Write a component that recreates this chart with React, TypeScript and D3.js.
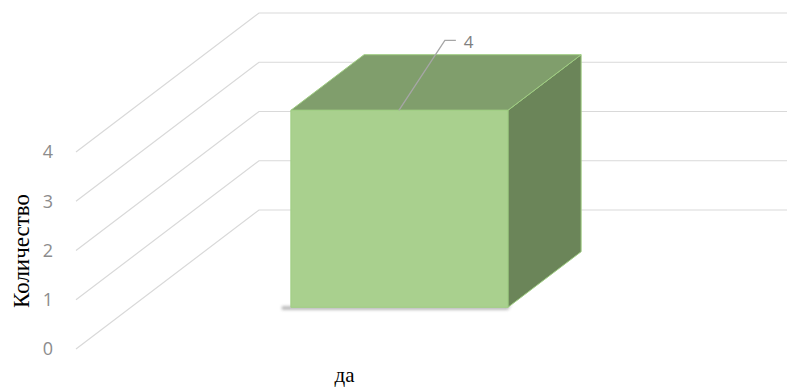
import React from "react";
import * as d3 from "d3";

const categories = ["да"];
const values = [4];
const yTicks = [0, 1, 2, 3, 4];
const yTitle = "Количество";

const W = 787;
const H = 387;

export default function App() {
  // front plane geometry
  const frontLeft = 76;
  const depthDx = 183;
  const depthDy = -139;
  const backRight = 787;

  const y = d3.scaleLinear().domain([0, 4]).range([349, 152]);
  const x = d3
    .scaleBand<string>()
    .domain(categories)
    .range([frontLeft, 613])
    .paddingInner(0)
    .paddingOuter(0.737);

  const barFront = 0.3;
  const barBack = 0.7;
  const off = (t: number) => [depthDx * t, depthDy * t];
  const [fdx, fdy] = off(barFront);
  const [bdx, bdy] = off(barBack);

  const line = d3.line();

  return (
    <svg
      width={W}
      height={H}
      style={{ position: "absolute", left: 0, top: 0, background: "#fff" }}
    >
      <defs>
        <filter id="shadow" x="-20%" y="-50%" width="140%" height="200%">
          <feGaussianBlur stdDeviation="1.5" />
        </filter>
      </defs>
      {/* gridlines */}
      {yTicks.map((t) => (
        <path
          key={t}
          d={
            line([
              [frontLeft, y(t)],
              [frontLeft + depthDx, y(t) + depthDy],
              [backRight, y(t) + depthDy],
            ]) as string
          }
          fill="none"
          stroke="#d9d9d9"
          strokeWidth={1.2}
        />
      ))}
      {/* tick labels */}
      {yTicks.map((t) => (
        <text
          key={"l" + t}
          x={53}
          y={y(t)}
          dy="0.36em"
          textAnchor="end"
          fontFamily="'Open Sans', sans-serif"
          fontSize={18}
          fill="#8c8c8c"
        >
          {t}
        </text>
      ))}
      {/* y title */}
      <text
        transform={`translate(29,251) rotate(-90)`}
        textAnchor="middle"
        fontFamily="'Liberation Serif', serif"
        fontSize={23}
        fill="#000"
      >
        {yTitle}
      </text>
      {/* bars */}
      {categories.map((c, i) => {
        const x0 = x(c) as number;
        const x1 = x0 + x.bandwidth();
        const yb = y(0);
        const yt = y(values[i]);
        const fl = x0 + fdx,
          fr = x1 + fdx,
          fb = yb + fdy,
          ft = yt + fdy;
        const bl = x0 + bdx,
          br = x1 + bdx,
          bb = yb + bdy,
          bt = yt + bdy;
        const poly = (pts: [number, number][]) => line(pts) + "Z";
        return (
          <g key={c}>
            <path
              d={poly([
                [fl - 9, fb - 1],
                [fr, fb - 1],
                [fr + 4, fb - 4],
                [fr, fb + 2.5],
                [fl - 9, fb + 2.5],
              ])}
              fill="#8a8a8a"
              opacity={0.65}
              filter="url(#shadow)"
            />
            <path
              d={poly([
                [fr, ft],
                [br, bt],
                [br, bb],
                [fr, fb],
              ])}
              fill="#6b8559"
              stroke="#9fcd82"
              strokeWidth={1}
              strokeLinejoin="round"
            />
            <path
              d={poly([
                [fl, ft],
                [bl, bt],
                [br, bt],
                [fr, ft],
              ])}
              fill="#809e6c"
              stroke="#9fcd82"
              strokeWidth={1}
              strokeLinejoin="round"
            />
            <path
              d={poly([
                [fl, ft],
                [fr, ft],
                [fr, fb],
                [fl, fb],
              ])}
              fill="#a9d08e"
              stroke="#9fcd82"
              strokeWidth={1}
            />
            {/* data label */}
            <path
              d={
                line([
                  [fl + 108, ft],
                  [fl + 154, ft - 70],
                  [fl + 165, ft - 70],
                ]) as string
              }
              fill="none"
              stroke="#a6a6a6"
              strokeWidth={1.3}
            />
            <text
              x={fl + 173}
              y={ft - 68}
              dy="0.36em"
              fontFamily="'Open Sans', sans-serif"
              fontSize={17}
              fill="#7f7f7f"
            >
              {values[i]}
            </text>
            {/* category label */}
            <text
              x={(x0 + x1) / 2}
              y={382}
              textAnchor="middle"
              fontFamily="'Liberation Serif', serif"
              fontSize={21}
              fill="#000"
            >
              {c}
            </text>
          </g>
        );
      })}
    </svg>
  );
}
